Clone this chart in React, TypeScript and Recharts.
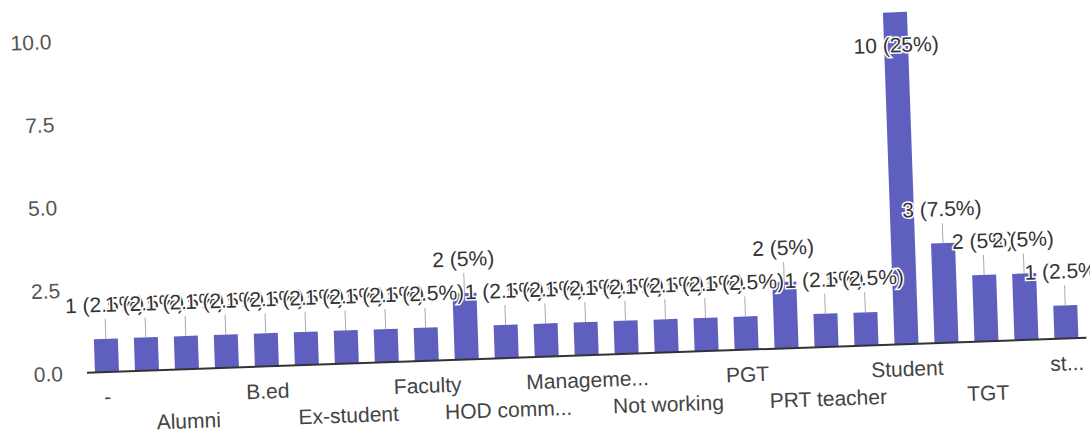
import React from "react";
import { BarChart, Bar, XAxis, YAxis, LabelList } from "recharts";

// hidden (odd) categories are not readable in the picture, names are fillers
const categories = [
  "-", "Admin", "Alumni", "Assistant", "B.ed", "Clerk", "Ex-student", "Ex-teacher",
  "Faculty", "HOD", "HOD comm...", "Librarian", "Manageme...", "NTT", "Not working",
  "Nurse", "PGT", "PRT", "PRT teacher", "Principal", "Student", "Student teacher",
  "TGT", "Teacher", "st...",
];
const counts = [1, 1, 1, 1, 1, 1, 1, 1, 1, 2, 1, 1, 1, 1, 1, 1, 1, 2, 1, 1, 10, 3, 2, 2, 1];
const yTicks = [0, 2.5, 5, 7.5, 10];

const total = counts.reduce((a, b) => a + b, 0);
const data = categories.map((name, i) => ({ name, count: counts[i] }));

const FONT = '"Liberation Sans", Arial, sans-serif';
const PLOT_TOP = 40;

const CategoryTick = (props: any) => {
  const { x, y, index, payload } = props;
  if (index % 2 === 1) return null;
  const lower = (index / 2) % 2 === 1;
  return (
    <text
      x={x}
      y={y + (lower ? 59 : 32)}
      textAnchor="middle"
      fill="#444"
      fontSize={21}
      fontFamily={FONT}
    >
      {payload.value}
    </text>
  );
};

const Annotation = (props: any) => {
  const { x, y, width, value } = props;
  const cx = x + width / 2;
  const pct = +((value / total) * 100).toFixed(1);
  const label = `${value} (${pct}%)`;
  const inside = y < PLOT_TOP + 40;
  const common = {
    textAnchor: "middle" as const,
    fill: "#333",
    fontSize: 21,
    fontFamily: FONT,
    stroke: "#fff",
    strokeWidth: 3,
    paintOrder: "stroke" as const,
  };
  if (inside) {
    return (
      <text x={cx} y={y + 40} {...common}>
        {label}
      </text>
    );
  }
  return (
    <g>
      <line x1={cx} y1={y} x2={cx} y2={y - 20} stroke="#aaa" strokeWidth={1} />
      <text x={cx} y={y - 27} {...common}>
        {label}
      </text>
    </g>
  );
};

export default function App() {
  return (
    <div
      style={{
        position: "absolute",
        left: 0,
        top: 0,
        width: 1090,
        height: 435,
        overflow: "hidden",
        background: "#fff",
      }}
    >
      <div
        style={{
          position: "absolute",
          left: 0,
          top: 0,
          transform: "rotate(-2deg)",
          transformOrigin: "107px 372px",
        }}
      >
        <BarChart
          width={1130}
          height={440}
          data={data}
          margin={{ top: PLOT_TOP, right: 43, bottom: 0, left: 0 }}
        >
          <XAxis
            dataKey="name"
            interval={0}
            height={68}
            tickLine={false}
            tickSize={0}
            tickMargin={0}
            axisLine={{ stroke: "#333", strokeWidth: 2 }}
            tick={<CategoryTick />}
          />
          <YAxis
            domain={[0, 10]}
            ticks={yTicks}
            width={87}
            axisLine={false}
            tickLine={false}
            tickSize={0}
            tickMargin={24}
            tickFormatter={(v: number) => v.toFixed(1)}
            tick={{ fill: "#555", fontSize: 21, fontFamily: FONT }}
          />
          <Bar dataKey="count" fill="#5f5fbf" barSize={24} isAnimationActive={false}>
            <LabelList dataKey="count" content={<Annotation />} />
          </Bar>
        </BarChart>
      </div>
    </div>
  );
}
